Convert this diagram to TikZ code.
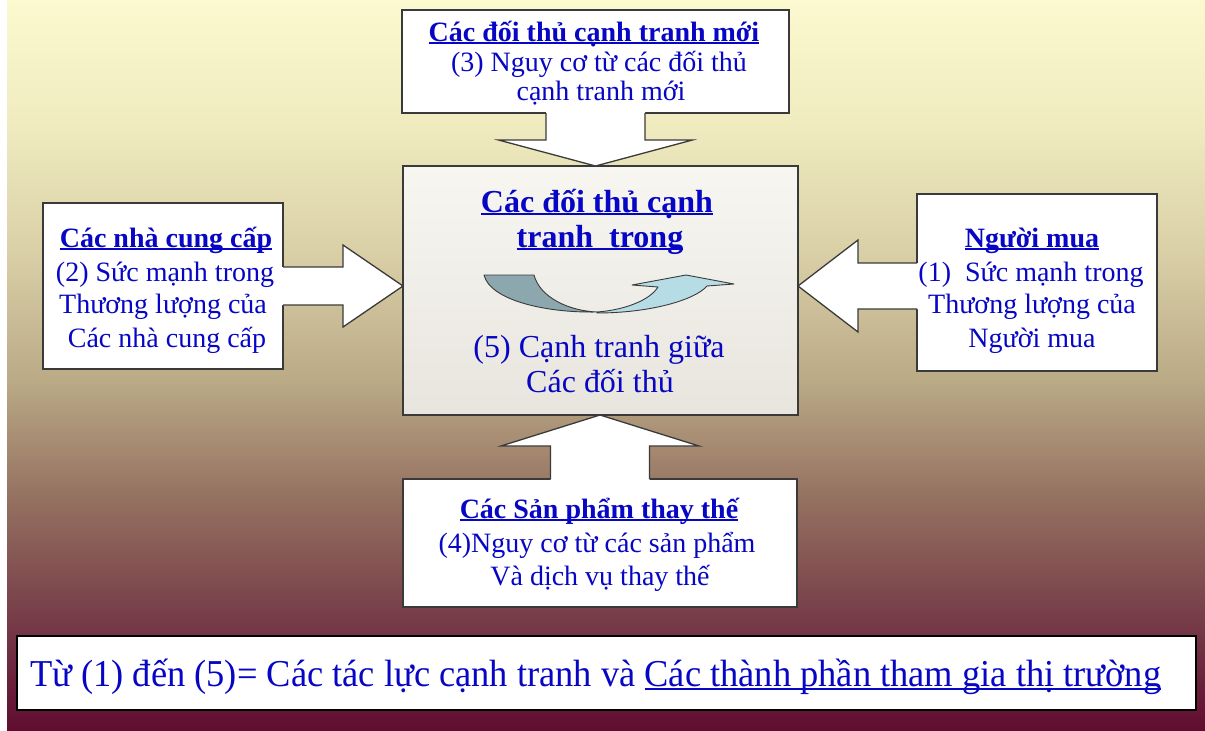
\documentclass[tikz,border=0pt]{standalone}
\usepackage{fontspec}
\setmainfont{Liberation Serif}
\usetikzlibrary{calc}

\definecolor{ink}{RGB}{6,6,196}
\definecolor{edge}{RGB}{58,58,58}
\definecolor{bgA}{RGB}{96,12,48}
\definecolor{bgB}{RGB}{118,60,72}
\definecolor{bgC}{RGB}{148,112,96}
\definecolor{bgD}{RGB}{186,170,134}
\definecolor{bgE}{RGB}{218,208,168}
\definecolor{bgF}{RGB}{240,236,192}
\definecolor{bgG}{RGB}{252,249,208}
\definecolor{curveDark}{RGB}{140,168,174}
\definecolor{curveLight}{RGB}{182,221,229}
\definecolor{coreTop}{RGB}{247,246,241}
\definecolor{coreBottom}{RGB}{232,229,222}

% backdrop: maroon at the foot fading to pale yellow at the head
\pgfdeclareverticalshading{backdrop}{100bp}{%
  color(0bp)=(bgA); color(25bp)=(bgA); color(32.6bp)=(bgB);
  color(40.8bp)=(bgC); color(49bp)=(bgD); color(57.9bp)=(bgE);
  color(66.8bp)=(bgF); color(75bp)=(bgG); color(100bp)=(bgG)}

% underlined heading
\newsavebox\ulbox
\newcommand\ulbar[2][3pt]{\sbox\ulbox{#2}\rlap{\rule[-#1]{\wd\ulbox}{1.7pt}}\usebox\ulbox}

\tikzset{
  panel/.style={draw=edge, line width=1.3pt, fill=white, inner sep=0pt, outer sep=0pt},
  arrowfill/.style={fill=white},
  arrowline/.style={draw=edge, line width=1.3pt, line join=miter},
  lbl/.style={text=ink, anchor=base, inner sep=0pt},
  head/.style={lbl, font=\bfseries\fontsize{28}{28}\selectfont},
  body/.style={lbl, font=\fontsize{28}{28}\selectfont},
  corehead/.style={lbl, font=\bfseries\fontsize{32}{32}\selectfont},
  corebody/.style={lbl, font=\fontsize{32}{32}\selectfont},
  swirl/.style={draw=edge, line width=0.9pt, line join=round},
}

\begin{document}
\begin{tikzpicture}[x=1pt, y=-1pt]
\useasboundingbox (0,0) rectangle (1205,731);
\fill[white] (0,0) rectangle (1205,731);
\shade[shading=backdrop] (7,0) rectangle (1205,731);

% the five forces
\node[panel, minimum width=387pt, minimum height=103pt] (entrants) at (595.5,61.5) {};
\node[panel, minimum width=395pt, minimum height=249pt, top color=coreTop, bottom color=coreBottom] (rivals) at (600.5,290.5) {};
\node[panel, minimum width=240pt, minimum height=166pt] (suppliers) at (163,286) {};
\node[panel, minimum width=240pt, minimum height=177pt] (buyers) at (1037,282.5) {};
\node[panel, minimum width=394pt, minimum height=128pt] (substitutes) at (600,543) {};
\node[panel, draw=black, line width=1.2pt, minimum width=1179pt, minimum height=74pt] (summary) at (606.5,673) {};

% new entrants -> rivals (down)
\coordinate (eb) at (entrants.south);
\coordinate (et) at (entrants.south |- rivals.north);
\fill[arrowfill] ($(eb)+(-49.5,-2)$) -- ($(eb)+(-49.5,27)$) -- ($(eb)+(-97,27)$) -- (et)
  -- ($(eb)+(97,27)$) -- ($(eb)+(49.5,27)$) -- ($(eb)+(49.5,-2)$) -- cycle;
\draw[arrowline] ($(eb)+(-49.5,0)$) -- ($(eb)+(-49.5,27)$) -- ($(eb)+(-97,27)$) -- (et)
  -- ($(eb)+(97,27)$) -- ($(eb)+(49.5,27)$) -- ($(eb)+(49.5,0)$);

% substitutes -> rivals (up)
\coordinate (sb) at (substitutes.north);
\coordinate (st) at (substitutes.north |- rivals.south);
\fill[arrowfill] ($(sb)+(-49.5,2)$) -- ($(sb)+(-49.5,-33)$) -- ($(sb)+(-99,-33)$) -- (st)
  -- ($(sb)+(99,-33)$) -- ($(sb)+(49.5,-33)$) -- ($(sb)+(49.5,2)$) -- cycle;
\draw[arrowline] ($(sb)+(-49.5,0)$) -- ($(sb)+(-49.5,-33)$) -- ($(sb)+(-99,-33)$) -- (st)
  -- ($(sb)+(99,-33)$) -- ($(sb)+(49.5,-33)$) -- ($(sb)+(49.5,0)$);

% suppliers -> rivals (right)
\coordinate (lb) at (suppliers.east);
\coordinate (lt) at (suppliers.east -| rivals.west);
\fill[arrowfill] ($(lb)+(-2,-19)$) -- ($(lb)+(60,-19)$) -- ($(lb)+(60,-41)$) -- (lt)
  -- ($(lb)+(60,41)$) -- ($(lb)+(60,19)$) -- ($(lb)+(-2,19)$) -- cycle;
\draw[arrowline] ($(lb)+(0,-19)$) -- ($(lb)+(60,-19)$) -- ($(lb)+(60,-41)$) -- (lt)
  -- ($(lb)+(60,41)$) -- ($(lb)+(60,19)$) -- ($(lb)+(0,19)$);

% buyers -> rivals (left)
\coordinate (rb) at ($(buyers.west)+(0,3.5)$);
\coordinate (rt) at (rb -| rivals.east);
\fill[arrowfill] ($(rb)+(2,-23)$) -- ($(rb)+(-59,-23)$) -- ($(rb)+(-59,-46)$) -- (rt)
  -- ($(rb)+(-59,46)$) -- ($(rb)+(-59,23)$) -- ($(rb)+(2,23)$) -- cycle;
\draw[arrowline] ($(rb)+(0,-23)$) -- ($(rb)+(-59,-23)$) -- ($(rb)+(-59,-46)$) -- (rt)
  -- ($(rb)+(-59,46)$) -- ($(rb)+(-59,23)$) -- ($(rb)+(0,23)$);

% rivalry swirl
\path[swirl, fill=curveDark] (484,275) -- (534,275)
  .. controls (540,298) and (570,311) .. (597,312)
  .. controls (545,313) and (490,300) .. (484,275) -- cycle;
\path[swirl, fill=curveLight] (597,312)
  .. controls (625,310) and (650,300) .. (658,287)
  -- (632,285) -- (686,275) -- (734,284) -- (707,286)
  .. controls (695,300) and (650,313) .. (597,313) -- cycle;

% texts
\node[head] (entrants-h) at (594,41) {\ulbar{Các đối thủ cạnh tranh mới}};
\node[body] (entrants-1) at (599,71) {(3) Nguy cơ từ các đối thủ};
\node[body] (entrants-2) at (601,100) {cạnh tranh mới};

\node[corehead] (rivals-h1) at (597,212) {\ulbar{Các đối thủ cạnh}};
\node[corehead] (rivals-h2) at (600,247) {\ulbar{tranh\ \ trong}};
\node[corebody] (rivals-1) at (599,357) {(5) Cạnh tranh giữa};
\node[corebody] (rivals-2) at (600,392) {Các đối thủ};

\node[head] (suppliers-h) at (166,247) {\ulbar{Các nhà cung cấp}};
\node[body] (suppliers-1) at (165,281) {(2) Sức mạnh trong};
\node[body] (suppliers-2) at (163,313) {Thương lượng của};
\node[body] (suppliers-3) at (167,347) {Các nhà cung cấp};

\node[head] (buyers-h) at (1032,247) {\ulbar{Người mua}};
\node[body] (buyers-1) at (1031,281) {(1)\ \ Sức mạnh trong};
\node[body] (buyers-2) at (1032,313) {Thương lượng của};
\node[body] (buyers-3) at (1032,347) {Người mua};

\node[head] (substitutes-h) at (599,518) {\ulbar{Các Sản phẩm thay thế}};
\node[body] (substitutes-1) at (597,552) {(4)Nguy cơ từ các sản phẩm};
\node[body] (substitutes-2) at (600,585) {Và dịch vụ thay thế};

\node[lbl, anchor=base west, font=\fontsize{38}{38}\selectfont] (summary-t) at (30,686)
  {\resizebox{1131pt}{\height}{Từ (1) đến (5)= Các tác lực cạnh tranh và \ulbar[4pt]{Các thành phần tham gia thị trường}}};
\end{tikzpicture}
\end{document}
